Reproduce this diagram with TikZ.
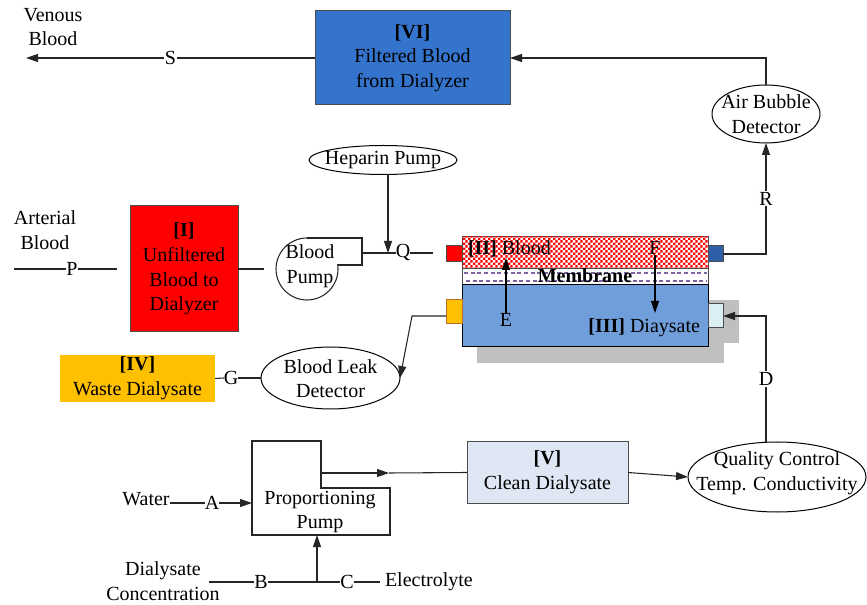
\documentclass[tikz,border=0pt]{standalone}
\usepackage{fontspec}
\setmainfont{Liberation Serif}
\newfontfamily\tnr{Liberation Serif}
\usetikzlibrary{arrows.meta,patterns,shapes.geometric}
\pgfdeclarepatternformonly{redcheck}{\pgfpointorigin}{\pgfpoint{4pt}{4pt}}{\pgfpoint{4pt}{4pt}}{%
 \pgfpathrectangle{\pgfpointorigin}{\pgfpoint{2pt}{2pt}}%
 \pgfpathrectangle{\pgfpoint{2pt}{2pt}}{\pgfpoint{2pt}{2pt}}%
 \pgfusepath{fill}}
\definecolor{viblue}{RGB}{52,116,204}
\definecolor{dialblue}{RGB}{112,158,218}
\definecolor{wasteorange}{RGB}{255,192,0}
\definecolor{cleanfill}{RGB}{222,231,243}
\definecolor{portblue}{RGB}{46,95,168}
\definecolor{portlight}{RGB}{218,238,243}
\definecolor{portbrown}{RGB}{190,110,40}
\definecolor{membpurple}{RGB}{128,100,162}
\definecolor{shadowgray}{RGB}{191,191,191}
\begin{document}
\begin{tikzpicture}[x=0.75pt,y=-0.75pt,
  every node/.style={font=\tnr\fontsize{15}{18.5}\selectfont, inner sep=0pt, outer sep=0pt},
  wh/.style 2 args={minimum width=#1*0.75pt, minimum height=#2*0.75pt},
  conn/.style={draw=black!85, line width=0.8pt},
  arr/.style={-{Triangle[length=9pt,width=6pt]}},
  lbl/.style={fill=white, inner sep=1pt},
  boxline/.style={draw=black!70, line width=0.75pt},
  oval/.style={ellipse, draw=black, line width=0.75pt}]
\useasboundingbox (0,0) rectangle (867,605);

% ---------- top: filtered blood ----------
\node[align=center] (venous) at (53,27) {Venous\\Blood};
\coordinate (vend) at (26,58);
\node[boxline, fill=viblue, wh={195}{94}, align=center] (vi) at (412.5,58) {\textbf{[VI]}\\Filtered Blood\\from Dialyzer};
\draw[conn,arr] (vi.west) -- node[lbl]{S} (vend);

\node[oval, wh={108}{58}] (air) at (766,114) {};
\node[align=center] (airtxt) at (766,114) {Air Bubble\\Detector};
\draw[conn,arr] (air.north) |- (vi.east);

% ---------- arterial side ----------
\node[align=center] (arterial) at (45,230) {Arterial\\Blood};
\coordinate (artin) at (14,269);
\coordinate (artout) at (117,269);
\node (p) at (72,269) {P};
\draw[conn] (artin) -- (p.west);
\draw[conn] (p.east) -- (artout);
\node[boxline, fill=red, wh={108}{126}, align=center] (i) at (184,269) {\textbf{[I]}\\Unfiltered\\Blood to\\Dialyzer};
\coordinate (iout) at (264,269);
\draw[conn] (i.east) -- (iout);

% blood pump
\draw[conn] (307,269) circle (23.25pt);
\fill[white] (307.5,236) rectangle (337.5,264.5);
\draw[conn] (307,238) -- (362,238) -- (362,265) -- (338,265);
\coordinate (bpout) at (362,253);
\node[align=center] (bptxt) at (310,266) {Blood\\Pump};

% heparin
\node[oval, wh={148}{29}] (hep) at (383,160) {};
\node (heptxt) at (383,160) {Heparin Pump};
\coordinate (qj) at (388,253);
\draw[conn,arr] (qj |- hep.south) -- (qj);
\node (q) at (403,253) {Q};
\coordinate (qend) at (433,253);
\draw[conn] (bpout) -- (q.west);
\draw[conn] (q.east) -- (qend);

% ---------- dialyzer ----------
\fill[shadowgray] (477,300) rectangle (724,363);
\fill[shadowgray] (724,300) rectangle (739,343);
\node[boxline, wh={246}{32}, fill=white, postaction={pattern=redcheck, pattern color=red}] (blood) at (585,253) {};
\node[boxline, wh={246}{16}, fill=white] (memb) at (585,277) {};
\draw[membpurple, line width=1pt, dash pattern=on 3pt off 2pt] (464,273) -- (707,273);
\draw[membpurple, line width=1pt, dash pattern=on 3pt off 2pt] (466,281) -- (707,281);
\node[boxline, draw=black, wh={246}{62}, fill=dialblue] (dial) at (585,316) {};
\node (membtxt) at (585,276) {\textbf{Membrane}};

\node[boxline, wh={16}{16}, fill=red] (pr) at (454,254) {};
\node[boxline, wh={15}{16}, fill=portblue] (pb) at (715.5,254) {};
\node[draw=portbrown, line width=0.75pt, wh={16}{24}, fill=wasteorange] (po) at (454,312) {};
\node[boxline, wh={15}{24}, fill=portlight] (pl) at (715.5,316) {};

\node[anchor=base west] (bltxt) at (468,255) {\textbf{[II]} Blood};
\node[anchor=base] (ftxt) at (655,255) {F};
\node[anchor=base] (etxt) at (506,327) {E};
\coordinate (etip) at (506,258);
\coordinate (ftip) at (655,313);
\draw[conn,draw=black,arr] (etxt.north) -- (etip);
\draw[conn,draw=black,arr] (ftxt.south) -- (ftip);
\node[anchor=base east] (diatxt) at (700,333) {\textbf{[III]} Diaysate};

\draw[conn,arr] (pb.east) -| node[lbl,pos=0.75]{R} (air.south);

% ---------- waste ----------
\node[fill=wasteorange, wh={155}{47}, align=center] (iv) at (137.5,378.5) {\textbf{[IV]}\\Waste Dialysate};
\node[oval, wh={139}{62}] (bld) at (330.5,378) {};
\node[align=center] (bldtxt) at (330.5,378.5) {Blood Leak\\Detector};
\node (g) at (231,378) {G};
\draw[conn] (iv.east) -- (g.west);
\draw[conn] (g.east) -- (bld.west);
\coordinate (bend) at (412,316);
\draw[conn,arr] ([yshift=-3pt]po.west) -- (bend) -- (bld.east);

% ---------- proportioning ----------
\draw[conn] (252,441) -- (321,441) -- (321,488) -- (390,488) -- (390,535) -- (252,535) -- cycle;
\node[align=center] (pptxt) at (320,512) {Proportioning\\Pump};
\coordinate (ppin) at (252,503);
\coordinate (ppout) at (321,473);
\coordinate (ppbot) at (317,535);

\node[anchor=base] (water) at (146,505) {Water};
\node (a) at (212,503) {A};
\draw[conn] (water.east |- a.west) -- (a.west);
\draw[conn,arr] (a.east) -- (ppin);

\node[align=center] (dc) at (163,581) {Dialysate\\Concentration};
\coordinate (dcl) at (209,582);
\node (b) at (261,582) {B};
\coordinate (bj) at (317,582);
\node (c) at (347,582) {C};
\node[anchor=west] (elec) at (385,582) {Electrolyte};
\draw[conn] (dcl) -- (b.west);
\draw[conn] (b.east) -- (c.west);
\draw[conn] (c.east) -- ([xshift=-4pt]elec.west);
\draw[conn,arr] (bj) -- (ppbot);

\node[boxline, fill=cleanfill, wh={161}{62}, align=center] (v) at (547.5,472.5) {\textbf{[V]}\\Clean Dialysate};
\coordinate (mid) at (389,473);
\draw[conn,arr] (ppout) -- (mid);
\draw[conn] (mid) -- (v.west);

\node[oval, wh={178}{70}] (qc) at (777,477) {};
\node[align=center] (qctxt) at (777,473) {Quality Control\\Temp. Conductivity};
\draw[conn,arr] (v.east) -- (qc.west);
\draw[conn,arr] ([xshift=-8.25pt]qc.north) |- node[lbl,pos=0.25]{D} (pl.east);
\end{tikzpicture}
\end{document}
